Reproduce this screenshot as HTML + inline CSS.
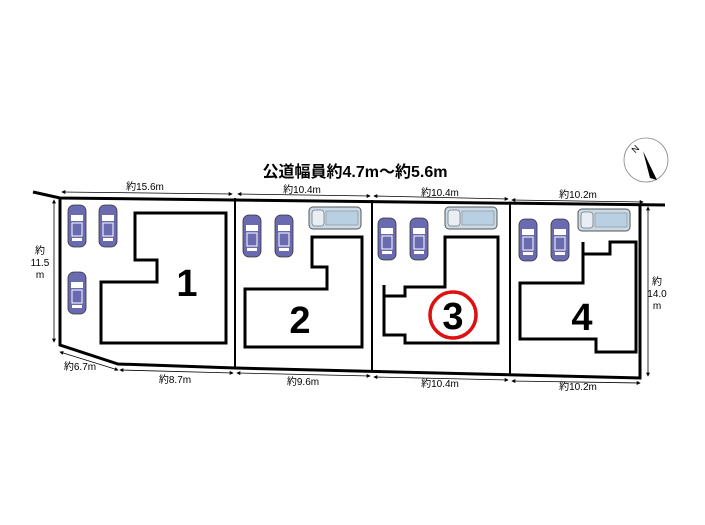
<!DOCTYPE html><html><head><meta charset="utf-8"><style>body{margin:0;background:#fff}svg{display:block}text{font-family:"Liberation Sans","Noto Sans CJK JP",sans-serif}</style></head><body>
<svg width="705" height="525" viewBox="0 0 705 525" xmlns="http://www.w3.org/2000/svg">
<defs>
<marker id="a" viewBox="0 0 6 6" refX="5" refY="3" markerWidth="5" markerHeight="5" orient="auto-start-reverse"><path d="M0,0L6,3L0,6z" fill="#000"/></marker>
<g id="car"><rect x="0" y="0" width="18" height="42" rx="6" fill="#6a6ab0" stroke="#333" stroke-width="0.8"/><rect x="3" y="10" width="12" height="6" fill="#fff"/><rect x="4" y="18" width="10" height="13" fill="#6a6ab0" stroke="#fff" stroke-width="1"/><rect x="4" y="33" width="10" height="3" fill="#fff"/></g>
<g id="van"><rect x="0" y="0" width="52" height="22" rx="4" fill="#c9dbe8" stroke="#555" stroke-width="1"/><rect x="3" y="3" width="12" height="16" rx="3" fill="#e8eef3" stroke="#777" stroke-width="0.8"/><rect x="17" y="4" width="32" height="14" fill="#b8d0e2" stroke="#888" stroke-width="0.6"/></g>
</defs>
<text x="355" y="177" font-size="16" font-weight="bold" text-anchor="middle">公道幅員約4.7m～約5.6m</text>
<circle cx="646" cy="160" r="22" fill="none" stroke="#888" stroke-width="0.8"/>
<path d="M643,151L657,180L650,178z" fill="#000"/>
<text x="633" y="152" font-size="9" transform="rotate(-45 636 150)">N</text>
<g stroke="#000" fill="none">
<path d="M33,192L60,198L665,205" stroke-width="3"/>
<path d="M60,198L60,345L118,364L235,368L640,378L640,205" stroke-width="3"/>
<path d="M235,198V368M372,200V371M510,203V375" stroke-width="2"/>
<g stroke-width="3">
<path d="M135,213H226V343H101V282H157V260H135Z"/>
<path d="M312,237H362V347H245V289H327V267H312Z"/>
<path d="M384,285V335H405V343H498V237H445V287H405V296H384"/>
<path d="M583,242V283H520V339H596V352H636V242H610V254H583"/>
</g>
<g stroke-width="0.8" marker-start="url(#a)" marker-end="url(#a)">
<path d="M62,192L232,194"/><path d="M238,194L370,196"/><path d="M374,196L508,199"/><path d="M512,200L643,202"/>
<path d="M54,200V342"/><path d="M648,207V376"/>
<path d="M60,352L118,370"/><path d="M120,370L233,373"/><path d="M237,373L370,376"/><path d="M374,377L508,380"/><path d="M512,381L640,383"/>
</g>
</g>
<circle cx="453" cy="315" r="23" fill="none" stroke="#d11" stroke-width="3.5"/>
<g font-weight="bold" text-anchor="middle" font-size="38">
<text x="187" y="296">1</text><text x="300" y="333">2</text><text x="453" y="329">3</text><text x="582" y="330">4</text>
</g>
<g font-size="10" text-anchor="middle">
<text x="145" y="190">約15.6m</text><text x="302" y="193">約10.4m</text><text x="440" y="196">約10.4m</text><text x="578" y="198">約10.2m</text>
<text x="40" y="254">約</text><text x="40" y="266">11.5</text><text x="40" y="278">m</text>
<text x="657" y="285">約</text><text x="657" y="297">14.0</text><text x="657" y="309">m</text>
<text x="80" y="370">約6.7m</text><text x="175" y="383">約8.7m</text><text x="303" y="385">約9.6m</text><text x="440" y="387">約10.4m</text><text x="578" y="390">約10.2m</text>
</g>
<use href="#car" x="68" y="205"/><use href="#car" x="99" y="205"/><use href="#car" x="68" y="272"/>
<use href="#car" x="243" y="215"/><use href="#car" x="275" y="215"/><use href="#van" x="309" y="207"/>
<use href="#car" x="378" y="218"/><use href="#car" x="410" y="218"/><use href="#van" x="445" y="207"/>
<use href="#car" x="519" y="219"/><use href="#car" x="551" y="219"/><use href="#van" x="578" y="209"/>
</svg></body></html>
